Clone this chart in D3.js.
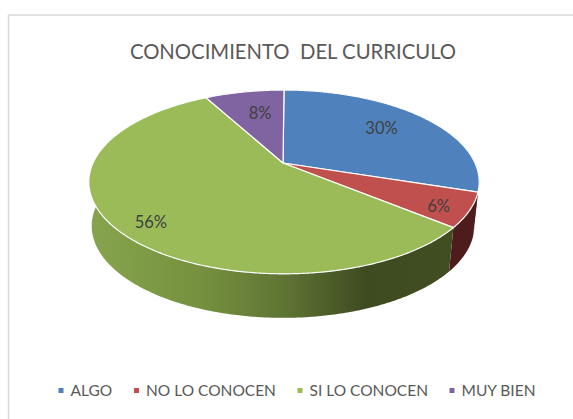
<!DOCTYPE html>
<html>
<head>
<meta charset="utf-8">
<style>
html, body { margin: 0; padding: 0; background: #fff; }
text { font-family: Lato, "Open Sans", sans-serif; }
</style>
<script src="https://d3js.org/d3.v7.min.js"></script>
</head>
<body>
<script>
var w = 573;
var h = 419;

var categories = ["ALGO", "NO LO CONOCEN", "SI LO CONOCEN", "MUY BIEN"];
var values = [30, 6, 56, 8];
var labels = ["30%", "6%", "56%", "8%"];
var colors = ["#4f81bd", "#c0504d", "#9bbb59", "#8064a2"];
var sideColors = ["#24405f", "#4e1c1c", "url(#greenSide)", "#403251"];
var title = "CONOCIMIENTO  DEL CURRICULO";

var svg = d3.select("body").append("svg")
    .attr("width", w)
    .attr("height", h)
    .style("display", "block");

// frame
svg.append("rect")
    .attr("x", 8.5).attr("y", 15)
    .attr("width", w).attr("height", h)
    .attr("fill", "#fff")
    .attr("stroke", "#d9d9d9")
    .attr("stroke-width", 1.5);

svg.append("text")
    .attr("x", 293).attr("y", 59)
    .attr("text-anchor", "middle")
    .attr("font-size", 20.3)
    .attr("fill", "#595959")
    .style("white-space", "pre")
    .text(title);

// perspective projection of the pie disc
var cx = 284, cy = 163, rx = 191, ry = 88, k = 0.206;
function project(angle, r) {
    var u = Math.sin(angle) * r, v = Math.cos(angle) * r;
    var d = 1 + k * v;
    return [cx + rx * u / d, cy - ry * v / d];
}
function projectLow(angle, r) {
    var p = project(angle, r);
    return [cx - 1 + (p[0] - cx) * 0.98, p[1] + 44];
}

var pie = d3.pie().sort(null).value(function(d) { return d; });
var arcs = pie(values);
var line = d3.line();

function rim(a0, a1, fn) {
    var n = Math.ceil((a1 - a0) / 0.01);
    return d3.range(n + 1).map(function(i) { return fn(a0 + (a1 - a0) * i / n, 1); });
}

var defs = svg.append("defs");
var grad = defs.append("linearGradient")
    .attr("id", "greenSide")
    .attr("gradientUnits", "userSpaceOnUse")
    .attr("x1", 91).attr("x2", 452).attr("y1", 0).attr("y2", 0);
[[0, "#86a44d"], [0.3, "#76913f"], [0.55, "#5d7233"], [0.76, "#3e4b20"], [1, "#414e22"]].forEach(function(s) {
    grad.append("stop").attr("offset", s[0]).attr("stop-color", s[1]);
});

// side walls first, top faces cover the hidden part
svg.selectAll(".side").data(arcs).enter().append("path")
    .attr("class", "side")
    .attr("fill", function(d, i) { return sideColors[i]; })
    .attr("d", function(d) {
        var top = rim(d.startAngle, d.endAngle, project);
        var low = rim(d.startAngle, d.endAngle, projectLow).reverse();
        return line(top.concat(low)) + "Z";
    });

svg.selectAll(".slice").data(arcs).enter().append("path")
    .attr("class", "slice")
    .attr("fill", function(d, i) { return colors[i]; })
    .attr("stroke", "#fff")
    .attr("stroke-width", 1.2)
    .attr("stroke-linejoin", "round")
    .attr("d", function(d) {
        return line([[cx - 1, cy]].concat(rim(d.startAngle, d.endAngle, project))) + "Z";
    });

// data labels, radius and shift
var labelRadius = [0.737, 0.921, 0.926, 0.664];
var labelShift = [-7, -15, 22, 4];
svg.selectAll(".lab").data(arcs).enter().append("text")
    .attr("class", "lab")
    .attr("text-anchor", "middle")
    .attr("font-size", 16.5)
    .attr("fill", "#404040")
    .attr("x", function(d, i) { return project((d.startAngle + d.endAngle) / 2, labelRadius[i])[0] + labelShift[i]; })
    .attr("y", function(d, i) { return project((d.startAngle + d.endAngle) / 2, labelRadius[i])[1] + 6; })
    .text(function(d, i) { return labels[i]; });

// legend
var legendX = [58.5, 134, 297.5, 449.5];
var legend = svg.selectAll(".leg").data(categories).enter().append("g")
    .attr("class", "leg")
    .attr("transform", function(d, i) { return "translate(" + legendX[i] + ",393)"; });
legend.append("rect")
    .attr("x", 0).attr("y", -5)
    .attr("width", 5).attr("height", 5)
    .attr("fill", function(d, i) { return colors[i]; });
legend.append("text")
    .attr("x", 12).attr("y", 3)
    .attr("font-size", 15.5)
    .attr("fill", "#595959")
    .text(function(d) { return d; });
</script>
</body>
</html>
